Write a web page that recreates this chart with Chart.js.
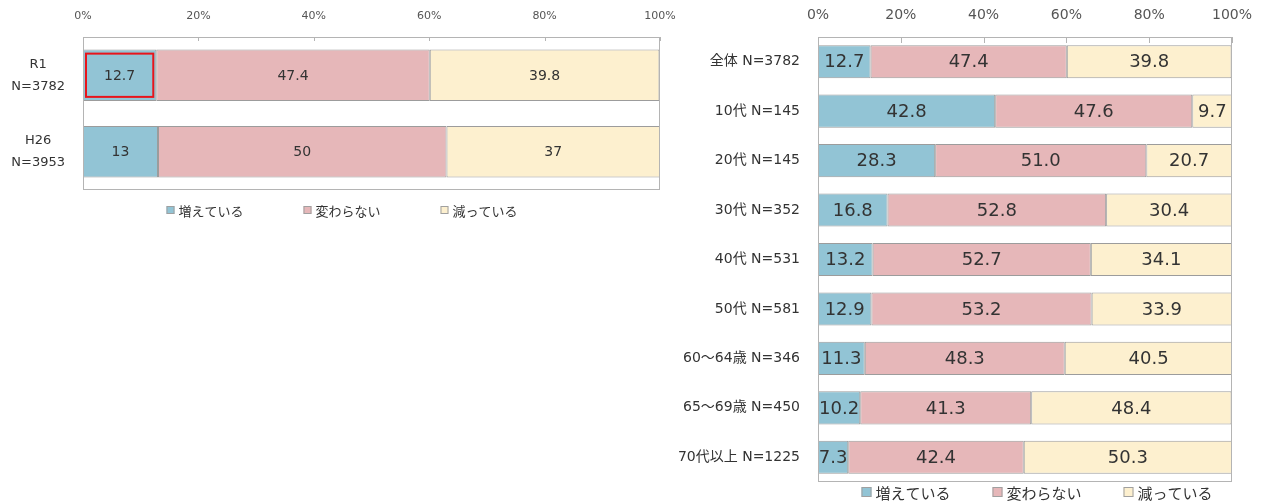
<!DOCTYPE html>
<html><head><meta charset="utf-8">
<script src="https://cdn.jsdelivr.net/npm/chart.js@4/dist/chart.umd.min.js"></script>
<style>
html,body{margin:0;padding:0;background:#fff;}
body{width:1261px;height:504px;position:relative;overflow:hidden;}
#w1{position:absolute;left:0;top:0;width:680px;height:230px;}
#w2{position:absolute;left:660px;top:0;width:601px;height:504px;}
</style></head><body>
<div id="w1"><canvas id="c1"></canvas></div>
<div id="w2"><canvas id="c2"></canvas></div>
<script>
const seriesNames = ['増えている', '変わらない', '減っている'];
const seriesColors = ['#92c4d5', '#e6b7b9', '#fdf0cf'];

const leftCategories = [['R1', 'N=3782'], ['H26', 'N=3953']];
const leftIncreasing = [12.7, 13];
const leftUnchanged = [47.4, 50];
const leftDecreasing = [39.8, 37];

const rightCategories = ['全体 N=3782', '10代 N=145', '20代 N=145', '30代 N=352', '40代 N=531', '50代 N=581', '60〜64歳 N=346', '65〜69歳 N=450', '70代以上 N=1225'];
const rightIncreasing = [12.7, 42.8, 28.3, 16.8, 13.2, 12.9, 11.3, 10.2, 7.3];
const rightUnchanged = [47.4, 47.6, 51.0, 52.8, 52.7, 53.2, 48.3, 41.3, 42.4];
const rightDecreasing = [39.8, 9.7, 20.7, 30.4, 34.1, 33.9, 40.5, 48.4, 50.3];

const tickValues = [0, 20, 40, 60, 80, 100];

const FONT = "'DejaVu Sans', 'Noto Sans CJK JP', sans-serif";

const decoPlugin = {
  id: 'deco',
  afterDatasetsDraw(chart, args, o) {
    const ctx = chart.ctx, a = chart.chartArea, x = chart.scales.x;
    ctx.save();
    // frame
    ctx.strokeStyle = o.frameColor; ctx.lineWidth = 1;
    ctx.strokeRect(Math.round(a.left) + 0.5, Math.round(a.top) + 0.5, Math.round(a.right - a.left) - 1, Math.round(a.bottom - a.top) - 1);
    // inner ticks
    ctx.beginPath();
    x.ticks.forEach(t => {
      const px = Math.round(x.getPixelForValue(t.value)) + 0.5;
      ctx.moveTo(px, a.top); ctx.lineTo(px, a.top + o.tickLen);
    });
    ctx.stroke();
    // data labels
    ctx.fillStyle = o.labelColor;
    ctx.font = o.labelFont;
    ctx.textAlign = 'center'; ctx.textBaseline = 'middle';
    chart.data.datasets.forEach((ds, di) => {
      const meta = chart.getDatasetMeta(di);
      meta.data.forEach((el, i) => {
        ctx.fillText(o.fmt(ds.data[i]), (el.x + el.base) / 2, el.y + 1);
      });
    });
    // highlight box
    if (o.highlight) {
      const el = chart.getDatasetMeta(o.highlight.dataset).data[o.highlight.index];
      ctx.strokeStyle = '#e8141b'; ctx.lineWidth = 2;
      const h = el.height;
      ctx.strokeRect(el.base + 3, el.y - h / 2 + 4, (el.x - el.base) - 6, h - 8);
    }
    // legend
    ctx.font = o.legendFont; ctx.textAlign = 'left'; ctx.textBaseline = 'middle';
    const items = chart.data.datasets.map(ds => ({ text: ds.label, color: ds.backgroundColor, w: o.box + 4 + ctx.measureText(ds.label).width }));
    const total = items.reduce((s, it) => s + it.w, 0) + o.legendGap * (items.length - 1);
    let lx = o.legendCenter - total / 2;
    const ly = a.bottom + o.legendOffset;
    items.forEach(it => {
      ctx.fillStyle = it.color;
      ctx.fillRect(lx, ly - o.box / 2, o.box, o.box);
      ctx.strokeStyle = '#a0a0a0'; ctx.lineWidth = 1;
      ctx.strokeRect(lx + 0.5, ly - o.box / 2 + 0.5, o.box - 1, o.box - 1);
      ctx.fillStyle = '#333';
      ctx.fillText(it.text, lx + o.box + 4, ly + 1);
      lx += it.w + o.legendGap;
    });
    ctx.restore();
  }
};

function makeDatasets(a, b, c) {
  return [a, b, c].map((d, i) => ({
    label: seriesNames[i], data: d, backgroundColor: seriesColors[i],
    borderColor: '#9c9c9c', borderWidth: 1, borderSkipped: false,
    categoryPercentage: 1, barPercentage: 0.67
  }));
}

function makeOptions(cfg) {
  return {
    indexAxis: 'y', responsive: true, maintainAspectRatio: false, animation: false,
    layout: { padding: cfg.padding },
    plugins: { legend: { display: false }, tooltip: { enabled: false }, deco: cfg.deco },
    scales: {
      x: {
        position: 'top', stacked: true, min: 0, max: 100,
        afterBuildTicks: s => { s.ticks = tickValues.map(v => ({ value: v })); },
        ticks: { callback: v => v + '%', font: { family: FONT, size: cfg.xFont }, color: '#555', padding: cfg.xPad, maxRotation: 0 },
        grid: { display: false, drawTicks: false }, border: { display: false },
        afterFit: s => { s.height = cfg.xh; s.paddingLeft = 0; s.paddingRight = 0; }
      },
      y: {
        stacked: true,
        ticks: { font: { family: FONT, size: cfg.yFont, lineHeight: cfg.yLine }, color: '#333', padding: cfg.yPad, crossAlign: cfg.crossAlign },
        grid: { display: false, drawTicks: false }, border: { display: false },
        afterFit: s => { s.width = cfg.yw; s.paddingTop = 0; s.paddingBottom = 0; }
      }
    }
  };
}

new Chart(document.getElementById('c1'), {
  type: 'bar',
  data: { labels: leftCategories, datasets: makeDatasets(leftIncreasing, leftUnchanged, leftDecreasing) },
  options: makeOptions({
    padding: { left: 0, right: 20, top: 0, bottom: 40 },
    xh: 37, yw: 83, xFont: 11, xPad: 14, yFont: 13, yLine: 1.7, yPad: 18, crossAlign: 'center',
    deco: { frameColor: '#b4b4b4', tickLen: 4, labelColor: '#333', labelFont: '14px ' + FONT,
      fmt: v => String(v), highlight: { dataset: 0, index: 0 },
      legendFont: "13px 'Noto Sans CJK JP', sans-serif", box: 8, legendGap: 60, legendCenter: 342, legendOffset: 20 }
  }),
  plugins: [decoPlugin]
});

new Chart(document.getElementById('c2'), {
  type: 'bar',
  data: { labels: rightCategories, datasets: makeDatasets(rightIncreasing, rightUnchanged, rightDecreasing) },
  options: makeOptions({
    padding: { left: 0, right: 29, top: 0, bottom: 22 },
    xh: 37, yw: 158, xFont: 14, xPad: 13, yFont: 14, yLine: 1.2, yPad: 18, crossAlign: 'near',
    deco: { frameColor: '#b4b4b4', tickLen: 6, labelColor: '#333', labelFont: '18px ' + FONT,
      fmt: v => v.toFixed(1), highlight: null,
      legendFont: "15px 'Noto Sans CJK JP', sans-serif", box: 10, legendGap: 42, legendCenter: 377, legendOffset: 10 }
  }),
  plugins: [decoPlugin]
});
</script>
</body></html>
